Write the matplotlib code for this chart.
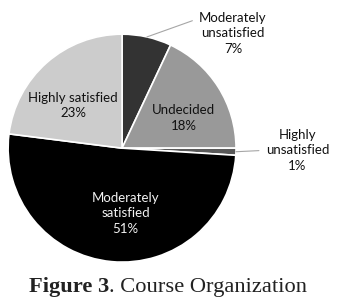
import numpy as np
import matplotlib.pyplot as plt

labels = ['Moderately\nunsatisfied', 'Undecided', 'Highly\nunsatisfied',
          'Moderately\nsatisfied', 'Highly satisfied']
values = [7, 18, 1, 51, 23]
colors = ['#333333', '#999999', '#595959', '#000000', '#cccccc']
text_colors = ['#111111', '#111111', '#111111', '#f2f2f2', '#111111']

# label placement: (radius, angle in degrees) relative to pie centre
inside = {1: (0.60, 26), 3: (0.57, -87), 4: (0.57, 139)}
outside = {0: (1.40, 46, (0.0, 0.85)), 2: (1.54, -0.7, (0.0, 0.5))}

plt.rcParams['font.family'] = ['Lato', 'DejaVu Sans']

fig = plt.figure(figsize=(3.42, 3.08), dpi=100)
ax = fig.add_axes([0.0234, 0.149, 0.667, 0.740])

wedges, _ = ax.pie(values, colors=colors, startangle=90, counterclock=False,
                   wedgeprops=dict(edgecolor='white', linewidth=1.2))
ax.set_xlim(-1, 1)
ax.set_ylim(-1, 1)
ax.set_aspect('equal')

for i, w in enumerate(wedges):
    txt = f"{labels[i]}\n{values[i]}%"
    if i in inside:
        r, a = inside[i]
        ax.text(r * np.cos(np.radians(a)), r * np.sin(np.radians(a)), txt,
                ha='center', va='center', fontsize=9.5, color=text_colors[i],
                linespacing=1.35)
    else:
        r, a, rel = outside[i]
        mid = np.radians((w.theta1 + w.theta2) / 2)
        ax.annotate(txt, xy=(np.cos(mid), np.sin(mid)),
                    xytext=(r * np.cos(np.radians(a)), r * np.sin(np.radians(a))),
                    ha='center', va='center', fontsize=9.5, color=text_colors[i],
                    linespacing=1.35, annotation_clip=False,
                    arrowprops=dict(arrowstyle='-', color='#a6a6a6', lw=0.8,
                                    relpos=rel, shrinkA=3, shrinkB=0))

# caption: bold part then regular part
t1 = fig.text(29 / 342, 1 - 292 / 308, 'Figure 3', family='Liberation Serif',
              weight='bold', fontsize=16.2, color='#222222', va='baseline')
fig.canvas.draw()
bb = t1.get_window_extent().transformed(fig.transFigure.inverted())
fig.text(bb.x1, 1 - 292 / 308, '. Course Organization', family='Liberation Serif',
         fontsize=16.2, color='#222222', va='baseline')

fig.savefig('out.png', dpi=100)
